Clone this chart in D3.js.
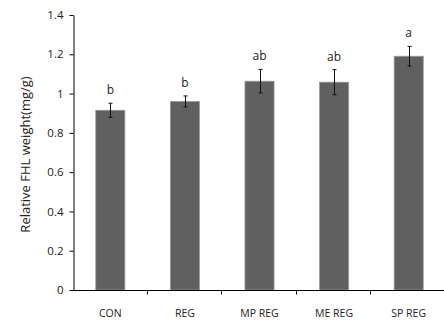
<!DOCTYPE html>
<html lang="en">
<head>
    <meta charset="UTF-8">
    <script src="https://d3js.org/d3.v7.min.js"></script>
    <title>Relative FHL weight</title>
</head>
<body style="margin:0; background:#fff;">
<script>
    const groups = ["CON", "REG", "MP REG", "ME REG", "SP REG"];
    const means = [0.915, 0.960, 1.063, 1.058, 1.190];
    const errors = [0.036, 0.028, 0.060, 0.064, 0.050];
    const letters = ["b", "b", "ab", "ab", "a"];
    const yTicks = [0, 0.2, 0.4, 0.6, 0.8, 1, 1.2, 1.4];

    const width = 444, height = 320;
    const margin = { top: 15, right: -2, bottom: 30, left: 73 };
    const font = "'Open Sans', 'DejaVu Sans', sans-serif";

    const svg = d3.select("body").append("svg")
        .attr("width", width)
        .attr("height", height)
        .attr("viewBox", [0, 0, width, height]);

    const x = d3.scaleBand()
        .domain(groups)
        .range([margin.left, width - margin.right])
        .paddingInner(0.61)
        .paddingOuter(0.305);

    const xCat = d3.scaleBand()
        .domain(groups)
        .range([margin.left, width - margin.right]);

    const y = d3.scaleLinear()
        .domain([0, 1.4])
        .range([height - margin.bottom, margin.top]);

    // bars
    svg.append("g")
        .selectAll("rect")
        .data(groups)
        .join("rect")
        .attr("x", (d, i) => x(d))
        .attr("y", (d, i) => y(means[i]))
        .attr("width", x.bandwidth())
        .attr("height", (d, i) => y(0) - y(means[i]))
        .attr("fill", "#606060")
        .attr("stroke", "#9a9a9a")
        .attr("stroke-width", 0.8);

    // error bars
    const eb = svg.append("g").attr("stroke", "#111").attr("stroke-width", 1);
    groups.forEach((g, i) => {
        const cx = Math.round(x(g) + x.bandwidth() / 2) + 0.5;
        const top = y(means[i] + errors[i]), bot = y(means[i] - errors[i]);
        eb.append("line").attr("x1", cx).attr("x2", cx).attr("y1", top).attr("y2", bot);
        eb.append("line").attr("x1", cx - 2).attr("x2", cx + 2).attr("y1", top).attr("y2", top);
        eb.append("line").attr("x1", cx - 2).attr("x2", cx + 2).attr("y1", bot).attr("y2", bot);
    });

    // significance letters
    svg.append("g")
        .selectAll("text")
        .data(groups)
        .join("text")
        .attr("x", d => x(d) + x.bandwidth() / 2)
        .attr("y", (d, i) => y(means[i] + errors[i]) - 9)
        .attr("text-anchor", "middle")
        .attr("font-family", font)
        .attr("font-size", 12)
        .attr("fill", "#222")
        .text((d, i) => letters[i]);

    // y axis
    svg.append("g")
        .attr("transform", `translate(${margin.left + 0.5},0)`)
        .call(d3.axisLeft(y).tickValues(yTicks).tickSize(4).tickSizeOuter(0).tickPadding(6)
            .tickFormat(d => d3.format("")(d)))
        .call(g => g.selectAll("text").attr("font-family", font).attr("font-size", 11.5).attr("fill", "#222"))
        .call(g => g.selectAll("line, path").attr("stroke", "#000"));

    // x axis
    svg.append("g")
        .attr("transform", `translate(0,${y(0) + 0.5})`)
        .call(g => g.append("line")
            .attr("x1", margin.left).attr("x2", width)
            .attr("stroke", "#000"))
        .call(g => g.selectAll("line.tk")
            .data(groups)
            .join("line")
            .attr("class", "tk")
            .attr("x1", d => Math.round(xCat(d) + xCat.bandwidth()) - 0.5)
            .attr("x2", d => Math.round(xCat(d) + xCat.bandwidth()) - 0.5)
            .attr("y1", 0).attr("y2", 4)
            .attr("stroke", "#000"))
        .call(g => g.selectAll("text")
            .data(groups)
            .join("text")
            .attr("x", d => xCat(d) + xCat.bandwidth() / 2)
            .attr("y", 26)
            .attr("text-anchor", "middle")
            .attr("font-family", font)
            .attr("font-size", 10.5)
            .attr("fill", "#222")
            .text(d => d));

    // y title
    svg.append("text")
        .attr("transform", `translate(30,${(margin.top + y(0)) / 2 + 2}) rotate(-90)`)
        .attr("text-anchor", "middle")
        .attr("font-family", font)
        .attr("font-size", 13)
        .attr("fill", "#222")
        .text("Relative FHL weight(mg/g)");
</script>
</body>
</html>
